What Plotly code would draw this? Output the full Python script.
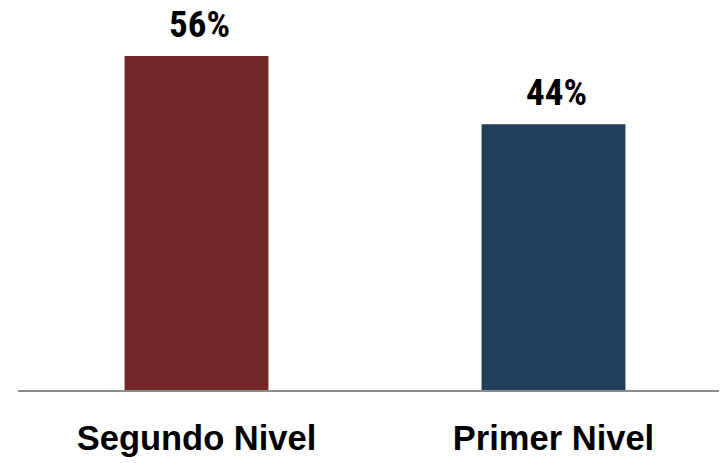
import plotly.graph_objects as go

categories = ["Segundo Nivel", "Primer Nivel"]
values = [55.7, 44.3]
colors = ["#722829", "#1F3F5B"]

NARROW = "Roboto Condensed, Liberation Sans Narrow, Arial Narrow, sans-serif"
WIDE = "Liberation Sans, Arial, sans-serif"

fig = go.Figure()
fig.add_trace(go.Bar(
    x=categories, y=values, marker=dict(color=colors, line=dict(width=0)),
    width=0.403, showlegend=False, hoverinfo="skip",
))

for c, v in zip(categories, values):
    fig.add_annotation(x=c, y=v, text=f"<b>{v:.0f}%</b>", showarrow=False,
                       yanchor="bottom", yshift=9, xshift=3, borderpad=0,
                       font=dict(family=NARROW, size=37, color="#000000"))

# page body has an 8px default margin, so the layout is offset to compensate
fig.update_layout(
    width=727, height=463,
    margin=dict(l=10, r=8, t=0, b=81),
    paper_bgcolor="white", plot_bgcolor="white",
    xaxis=dict(
        type="category", range=[-0.5, 1.486], automargin=False,
        showline=True, linecolor="#8C8C8C", linewidth=2,
        showgrid=False, zeroline=False,
        ticks="outside", ticklen=17, tickcolor="rgba(0,0,0,0)",
        tickfont=dict(family=WIDE, size=34.5, color="#000000"),
        tickvals=categories,
        ticktext=[f"<b>{c}</b>" for c in categories],
    ),
    yaxis=dict(range=[0, 63.7], visible=False, showgrid=False,
               zeroline=False, automargin=False),
)

fig.write_html("out.html")
